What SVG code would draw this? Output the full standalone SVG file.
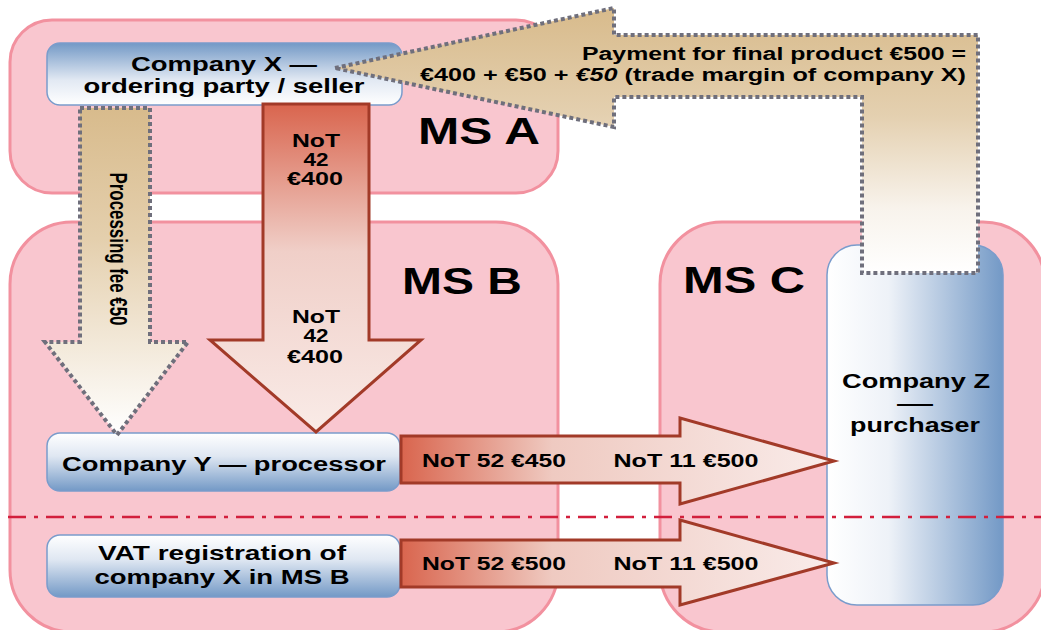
<svg xmlns="http://www.w3.org/2000/svg" width="1041" height="630" viewBox="0 0 1041 630">
<defs>
<linearGradient id="gBlueDown" x1="0" y1="0" x2="0" y2="1"><stop offset="0" stop-color="#7399c6"/><stop offset="0.6" stop-color="#e2e9f3"/><stop offset="1" stop-color="#ffffff"/></linearGradient>
<linearGradient id="gBlueUp" x1="0" y1="0" x2="0" y2="1"><stop offset="0" stop-color="#ffffff"/><stop offset="0.4" stop-color="#dfe7f2"/><stop offset="1" stop-color="#7399c6"/></linearGradient>
<linearGradient id="gBlueRight" x1="0" y1="0" x2="1" y2="0"><stop offset="0" stop-color="#ffffff"/><stop offset="0.35" stop-color="#eef2f8"/><stop offset="1" stop-color="#7399c6"/></linearGradient>
<linearGradient id="gRedDown" x1="0" y1="0" x2="0" y2="1"><stop offset="0" stop-color="#d9654e"/><stop offset="0.45" stop-color="#f0cfc8"/><stop offset="1" stop-color="#f9ebe7"/></linearGradient>
<linearGradient id="gRedRight" x1="0" y1="0" x2="1" y2="0"><stop offset="0" stop-color="#d9654e"/><stop offset="0.35" stop-color="#efcac1"/><stop offset="1" stop-color="#f9ecea"/></linearGradient>
<linearGradient id="gTanDown" x1="0" y1="0" x2="0" y2="1"><stop offset="0" stop-color="#d8bb8c"/><stop offset="0.4" stop-color="#e4cfad"/><stop offset="1" stop-color="#ffffff"/></linearGradient>
<linearGradient id="gTanPay" gradientUnits="userSpaceOnUse" x1="0" y1="10" x2="0" y2="275"><stop offset="0" stop-color="#d8bb8c"/><stop offset="0.4" stop-color="#e4d0b0"/><stop offset="0.75" stop-color="#f8f3ec"/><stop offset="1" stop-color="#ffffff"/></linearGradient>
<style>
.ms{fill:#f9c6cf;stroke:#f2919f;stroke-width:3}
.node{stroke:#7a9ccc;stroke-width:1.5}
.t{font-family:"Liberation Sans",Arial,sans-serif;font-weight:bold;fill:#000;text-anchor:middle}
.e{text-anchor:end}
.big{font-size:36px}
.lbl{font-size:20px}
.al{font-size:18px}
.red{stroke:#a23a28;stroke-width:3;stroke-linejoin:miter}
.dot{stroke:#6f6f7c;stroke-width:4;stroke-dasharray:4 3}
</style>
</defs>

<g id="regions">
<rect id="msA" class="ms" x="10" y="20" width="548" height="173" rx="42"/>
<rect id="msB" class="ms" x="10" y="222" width="548" height="410" rx="62"/>
<rect id="msC" class="ms" x="660" y="222" width="385" height="410" rx="62"/>
<text class="t big" x="479" y="144" textLength="122" lengthAdjust="spacingAndGlyphs">MS A</text>
<text class="t big" x="462" y="294" textLength="120" lengthAdjust="spacingAndGlyphs">MS B</text>
<text class="t big" x="744" y="293" textLength="122" lengthAdjust="spacingAndGlyphs">MS C</text>
</g>

<g id="companyZ">
<rect class="node" x="827" y="245" width="176" height="360" rx="30" fill="url(#gBlueRight)"/>
<text class="t lbl" x="916" y="388" textLength="148" lengthAdjust="spacingAndGlyphs">Company Z</text>
<text class="t lbl" x="915" y="410" textLength="36" lengthAdjust="spacingAndGlyphs">—</text>
<text class="t lbl" x="915" y="432" textLength="130" lengthAdjust="spacingAndGlyphs">purchaser</text>
</g>

<g id="companyX">
<rect class="node" x="47" y="43" width="355" height="62" rx="13" fill="url(#gBlueDown)"/>
<text class="t lbl" x="224" y="71" textLength="186" lengthAdjust="spacingAndGlyphs">Company X —</text>
<text class="t lbl" x="224" y="93" textLength="281" lengthAdjust="spacingAndGlyphs">ordering party / seller</text>
</g>

<g id="companyY">
<rect class="node" x="47" y="433" width="353" height="58" rx="13" fill="url(#gBlueUp)"/>
<text class="t lbl" x="224" y="471" textLength="324" lengthAdjust="spacingAndGlyphs">Company Y — processor</text>
</g>

<g id="vatReg">
<rect class="node" x="47" y="535" width="353" height="62" rx="13" fill="url(#gBlueUp)"/>
<text class="t lbl" x="222" y="560" textLength="248" lengthAdjust="spacingAndGlyphs">VAT registration of</text>
<text class="t lbl" x="222" y="584" textLength="255" lengthAdjust="spacingAndGlyphs">company X in MS B</text>
</g>

<g id="connectors">
<g id="feeArrow">
<polygon class="dot" fill="url(#gTanDown)" points="80,108 150,108 150,342 188,342 117,435 45,342 80,342"/>
<text class="t al" transform="translate(110,249) rotate(90) scale(1,1.3)" font-size="17" textLength="153" lengthAdjust="spacingAndGlyphs">Processing fee €50</text>
</g>
<g id="not42Arrow">
<polygon class="red" fill="url(#gRedDown)" points="263,104 369,104 369,340 421,340 316,432 210,340 263,340"/>
<text class="t al" x="316" y="147" textLength="48" lengthAdjust="spacingAndGlyphs">NoT</text>
<text class="t al" x="316" y="166" textLength="25" lengthAdjust="spacingAndGlyphs">42</text>
<text class="t al" x="315" y="185" textLength="56" lengthAdjust="spacingAndGlyphs">€400</text>
<text class="t al" x="316" y="323" textLength="48" lengthAdjust="spacingAndGlyphs">NoT</text>
<text class="t al" x="316" y="342" textLength="25" lengthAdjust="spacingAndGlyphs">42</text>
<text class="t al" x="315" y="363" textLength="56" lengthAdjust="spacingAndGlyphs">€400</text>
</g>
<g id="yToZ">
<polygon class="red" fill="url(#gRedRight)" points="401,436 680,436 680,418 834,461 680,504 680,483 401,483"/>
<text class="t al" x="494" y="467" textLength="144" lengthAdjust="spacingAndGlyphs">NoT 52 €450</text>
<text class="t al" x="686" y="467" textLength="145" lengthAdjust="spacingAndGlyphs">NoT 11 €500</text>
</g>
<g id="vatToZ">
<polygon class="red" fill="url(#gRedRight)" points="401,540 680,540 680,520 834,563 680,605 680,587 401,587"/>
<text class="t al" x="494" y="570" textLength="144" lengthAdjust="spacingAndGlyphs">NoT 52 €500</text>
<text class="t al" x="686" y="570" textLength="145" lengthAdjust="spacingAndGlyphs">NoT 11 €500</text>
</g>
<g id="paymentArrow">
<polygon class="dot" fill="url(#gTanPay)" points="335,68 614,8 614,35 978,35 978,273 862,273 862,97 614,97 614,127"/>
<text class="t al e" x="966" y="60" textLength="384" lengthAdjust="spacingAndGlyphs">Payment for final product €500 =</text>
<text class="t al e" x="966" y="81" textLength="546" lengthAdjust="spacingAndGlyphs">€400 + €50 + <tspan font-style="italic">€50</tspan> (trade margin of company X)</text>
</g>
<line id="border" x1="8" y1="517" x2="1041" y2="517" stroke="#d21f3c" stroke-width="2.5" stroke-dasharray="18 8 4 8"/>
</g>
</svg>
